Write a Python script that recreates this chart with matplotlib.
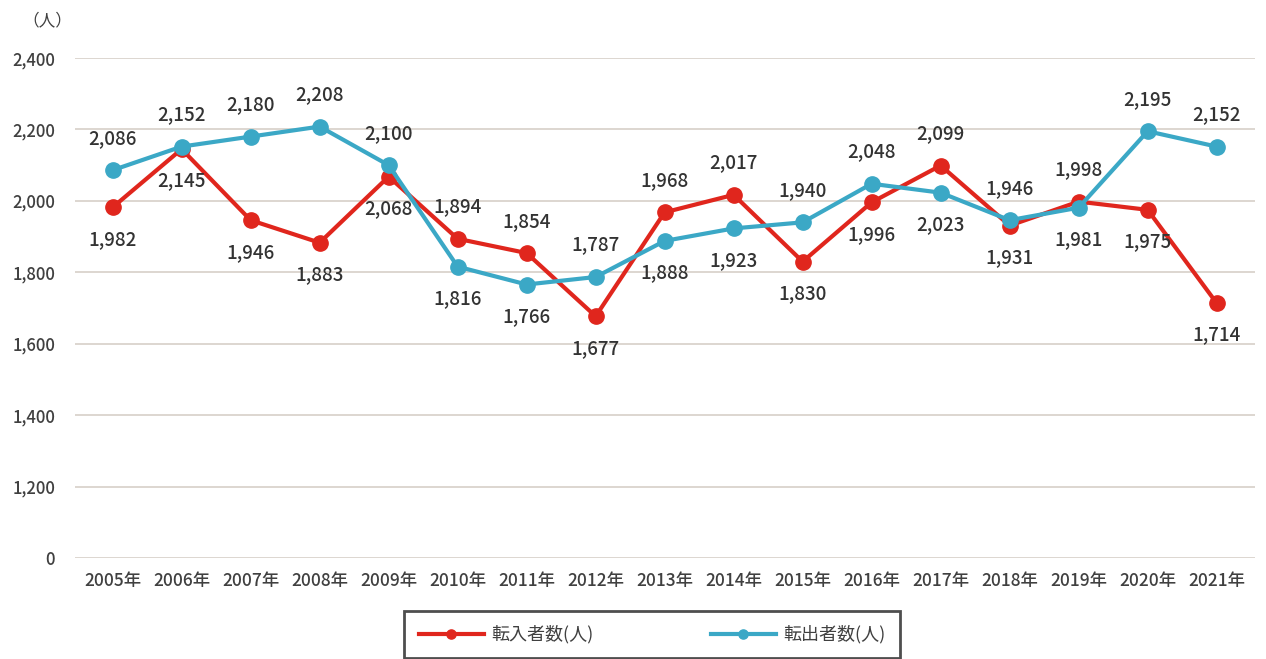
import matplotlib.pyplot as plt
from matplotlib.ticker import FuncFormatter

plt.rcParams['font.family'] = ['Noto Sans CJK JP', 'DejaVu Sans']

years = [f"{y}年" for y in range(2005, 2022)]
move_in = [1982, 2145, 1946, 1883, 2068, 1894, 1854, 1677, 1968,
           2017, 1830, 1996, 2099, 1931, 1998, 1975, 1714]
move_out = [2086, 2152, 2180, 2208, 2100, 1816, 1766, 1787, 1888,
            1923, 1940, 2048, 2023, 1946, 1981, 2195, 2152]
y_ticks = [1000, 1200, 1400, 1600, 1800, 2000, 2200, 2400]

red = '#e0261d'
blue = '#3ba8c6'
text_col = '#404040'

fig = plt.figure(figsize=(12.66, 6.59), dpi=100)
ax = fig.add_axes([0.059, 0.153, 0.932, 0.759])

x = list(range(len(years)))
ax.plot(x, move_in, color=red, lw=3, marker='o', ms=11, label='転入者数(人)', zorder=3)
ax.plot(x, move_out, color=blue, lw=3, marker='o', ms=11, label='転出者数(人)', zorder=4)

# higher value gets its label above the marker, lower one below
for i in x:
    for v, other in ((move_in[i], move_out[i]), (move_out[i], move_in[i])):
        dy = 23 if v >= other else -23
        ax.annotate(f"{v:,}", (i, v), xytext=(0, dy), textcoords='offset points',
                    ha='center', va='center', fontsize=13.5, color='#333333',
                    fontweight='medium', zorder=5)

ax.set_xlim(-0.55, len(years) - 0.45)
ax.set_ylim(1000, 2400)
ax.set_yticks(y_ticks)
# axis is broken: the bottom line stands for 0
ax.yaxis.set_major_formatter(FuncFormatter(lambda v, p: "0" if v == 1000 else f"{int(v):,}"))
ax.set_xticks(x)
ax.set_xticklabels(years)
ax.tick_params(length=0, labelcolor=text_col)
ax.tick_params(axis='y', pad=14, labelsize=12)
ax.tick_params(axis='x', pad=10, labelsize=12.5)
for t in ax.get_xticklabels() + ax.get_yticklabels():
    t.set_fontweight('medium')
ax.grid(axis='y', color='#ddd6d0', lw=1.4)
ax.set_axisbelow(True)
for s in ax.spines.values():
    s.set_visible(False)

fig.text(0.018, 0.968, '（人）', fontsize=12, color=text_col, ha='left', va='center')

leg = fig.legend(loc='upper center', bbox_to_anchor=(0.515, 0.073), ncol=2,
                 frameon=True, fancybox=False, edgecolor='#222222', fontsize=13,
                 handlelength=3.6, columnspacing=6.5, borderpad=0.8, borderaxespad=0,
                 handletextpad=0.4, markerscale=0.6, labelcolor=text_col)
leg.get_frame().set_linewidth(2)

fig.savefig('out.png', dpi=100)
